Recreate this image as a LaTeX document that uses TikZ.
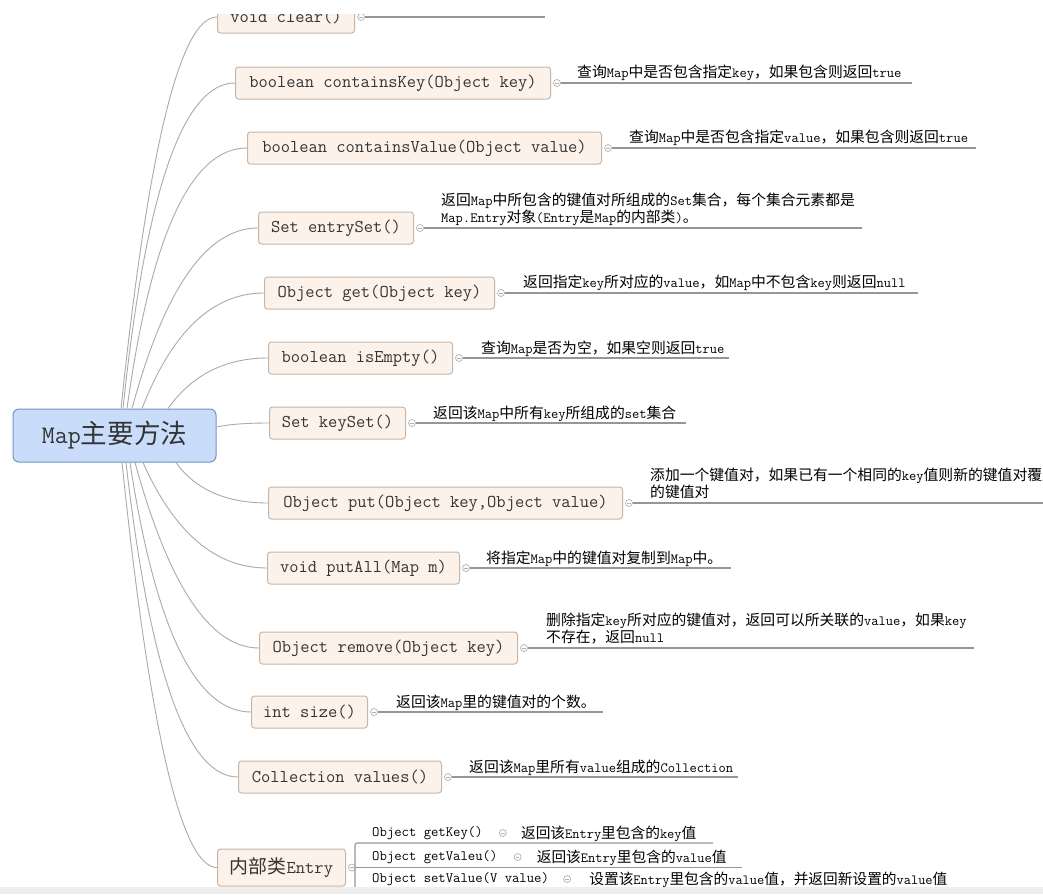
\documentclass[tikz,border=0pt]{standalone}
\usepackage{fontspec}
\usetikzlibrary{calc}
\newcommand\latf{\ttfamily}
\newfontfamily\cjkf[Scale=1.05]{Noto Sans CJK SC}
\XeTeXinterchartokenstate=1
\chardef\CJKcls=7
\newcount\cjkcnt
\cjkcnt="4E00 \loop\XeTeXcharclass\cjkcnt=\CJKcls \ifnum\cjkcnt<"9FFF \advance\cjkcnt by 1 \repeat
\cjkcnt="3000 \loop\XeTeXcharclass\cjkcnt=\CJKcls \ifnum\cjkcnt<"303F \advance\cjkcnt by 1 \repeat
\cjkcnt="FF00 \loop\XeTeXcharclass\cjkcnt=\CJKcls \ifnum\cjkcnt<"FFEF \advance\cjkcnt by 1 \repeat
\XeTeXinterchartoks 0 \CJKcls = {\cjkf}
\XeTeXinterchartoks 4095 \CJKcls = {\cjkf}
\XeTeXinterchartoks \CJKcls 0 = {\latf}
\XeTeXinterchartoks \CJKcls 4095 = {\latf}
\XeTeXinterchartoks 4095 0 = {\latf}
\definecolor{boxfill}{RGB}{253,242,234}
\definecolor{boxdraw}{RGB}{196,182,170}
\definecolor{rootfill}{RGB}{201,221,251}
\definecolor{rootdraw}{RGB}{118,146,196}
\definecolor{linec}{RGB}{170,170,170}
\definecolor{dlinec}{RGB}{150,150,150}
\definecolor{txt}{RGB}{52,52,52}
\definecolor{bandc}{RGB}{238,238,238}
\tikzset{
  mbox/.style={draw=boxdraw, fill=boxfill, rounded corners=3pt, line width=1pt,
    inner xsep=10pt, inner ysep=0pt, minimum height=32pt, anchor=west, text=txt,
    font=\ttfamily\fontsize{18}{20}\selectfont},
  rootbox/.style={draw=rootdraw, fill=rootfill, rounded corners=6pt, line width=1pt,
    minimum width=203pt, minimum height=53pt, inner sep=0pt, text=txt,
    font=\ttfamily\fontsize{25.3}{28}\selectfont},
  branch/.style={draw=linec, line width=0.9pt},
  dline/.style={draw=dlinec, line width=1.1pt},
  desc/.style={anchor=south west, inner sep=0pt, text depth=0pt, align=left,
    font=\ttfamily\fontsize{14.1}{14}\selectfont, text=black},
  sub/.style={anchor=west, inner sep=0pt, font=\ttfamily\fontsize{14.3}{16}\selectfont, text=black},
  subdesc/.style={anchor=base west, inner sep=0pt, font=\ttfamily\fontsize{14}{16}\selectfont, text=black},
  knob/.style={circle, draw=gray!60, fill=white, line width=0.7pt, minimum size=7pt,
    inner sep=0pt, path picture={\draw[gray!60, line width=0.6pt]
      ([xshift=-1.8pt]path picture bounding box.center) --
      ([xshift=1.8pt]path picture bounding box.center);}},
}
\newcommand\brup[4]{\draw[branch] (root.north -| #1,0) .. controls ($(root.north -| #1,0)!0.6667!(#2,#3)$) and ($(#4.west)!0.6667!(#2,#3)$) .. (#4.west);}
\newcommand\brdn[4]{\draw[branch] (root.south -| #1,0) .. controls ($(root.south -| #1,0)!0.6667!(#2,#3)$) and ($(#4.west)!0.6667!(#2,#3)$) .. (#4.west);}
\begin{document}
\begin{tikzpicture}[x=1pt,y=-1pt]
\useasboundingbox (0,0) rectangle (1043,894);
\clip (0,0) rectangle (1043,894);
\fill[white] (0,0) rectangle (1043,894);
% root
\node[rootbox] (root) at (114.5,435.5) {Map主要方法};
% method boxes
\node[mbox, minimum width=137pt] (clear) at (217,17) {void clear()};
\node[mbox, minimum width=315pt] (ckey) at (235,83) {boolean containsKey(Object key)};
\node[mbox, minimum width=354pt] (cval) at (247,148) {boolean containsValue(Object value)};
\node[mbox, minimum width=155pt] (eset) at (258,228) {Set entrySet()};
\node[mbox, minimum width=230pt] (get) at (264,293) {Object get(Object key)};
\node[mbox, minimum width=184pt] (isem) at (268,358) {boolean isEmpty()};
\node[mbox, minimum width=136pt] (kset) at (269,423) {Set keySet()};
\node[mbox, minimum width=354pt] (put) at (268,503) {Object put(Object key,Object value)};
\node[mbox, minimum width=192pt] (pall) at (267,568) {void putAll(Map m)};
\node[mbox, minimum width=258pt] (rem) at (259,648) {Object remove(Object key)};
\node[mbox, minimum width=116pt] (size) at (251,712) {int size()};
\node[mbox, minimum width=203pt] (vals) at (238,777) {Collection values()};
\node[mbox, minimum width=128pt, minimum height=37pt] (entry) at (217,867.5) {内部类Entry};
% branches
\brup{121}{162}{17}{clear}
\brup{123}{157}{83}{ckey}
\brup{127}{163}{148}{cval}
\brup{132}{181}{228}{eset}
\brup{142}{187}{293}{get}
\brup{168}{204}{358}{isem}
\draw[branch] (root.east |- 0,427) .. controls ($(root.east |- 0,427)!0.6667!(235,423)$) and ($(kset.west)!0.6667!(235,423)$) .. (kset.west);
\brdn{176}{205}{503}{put}
\brdn{143}{190}{568}{pall}
\brdn{135}{186}{648}{rem}
\brdn{130}{168}{712}{size}
\brdn{126}{162}{777}{vals}
\brdn{122}{164}{867.5}{entry}
% knobs
\foreach \n/\k in {clear/k1,ckey/k2,cval/k3,eset/k4,get/k5,isem/k6,kset/k7,put/k8,pall/k9,rem/k10,size/k11,vals/k12,entry/k13}
  \node[knob] (\k) at ($(\n.east)+(6,0)$) {};
% description lines
\draw[dline] (k1.east) -- (k1.east -| 545,0);
\draw[dline] (k2.east) -- (k2.east -| 912,0);
\draw[dline] (k3.east) -- (k3.east -| 976,0);
\draw[dline] (k4.east) -- (k4.east -| 862,0);
\draw[dline] (k5.east) -- (k5.east -| 918,0);
\draw[dline] (k6.east) -- (k6.east -| 729,0);
\draw[dline] (k7.east) -- (k7.east -| 686,0);
\draw[dline] (k8.east) -- (k8.east -| 1050,0);
\draw[dline] (k9.east) -- (k9.east -| 731,0);
\draw[dline] (k10.east) -- (k10.east -| 974,0);
\draw[dline] (k11.east) -- (k11.east -| 603,0);
\draw[dline] (k12.east) -- (k12.east -| 738,0);
% descriptions
\node[desc] (d2) at ($(k2.center)+(20,-5)$) {查询Map中是否包含指定key，如果包含则返回true};
\node[desc] (d3) at ($(k3.center)+(21,-5)$) {查询Map中是否包含指定value，如果包含则返回true};
\node[desc] (d4) at ($(k4.center)+(21,-5.5)$) {返回Map中所包含的键值对所组成的Set集合，每个集合元素都是\\Map.Entry对象(Entry是Map的内部类)。};
\node[desc] (d5) at ($(k5.center)+(22,-5)$) {返回指定key所对应的value，如Map中不包含key则返回null};
\node[desc] (d6) at ($(k6.center)+(22,-4.5)$) {查询Map是否为空，如果空则返回true};
\node[desc] (d7) at ($(k7.center)+(21,-4.5)$) {返回该Map中所有key所组成的set集合};
\node[desc] (d8) at ($(k8.center)+(21,-5.5)$) {添加一个键值对，如果已有一个相同的key值则新的键值对覆盖旧\\的键值对};
\node[desc] (d9) at ($(k9.center)+(20,-4.5)$) {将指定Map中的键值对复制到Map中。};
\node[desc] (d10) at ($(k10.center)+(22,-5.5)$) {删除指定key所对应的键值对，返回可以所关联的value，如果key\\不存在，返回null};
\node[desc] (d11) at ($(k11.center)+(22,-4.5)$) {返回该Map里的键值对的个数。};
\node[desc] (d12) at ($(k12.center)+(21,-4.5)$) {返回该Map里所有value组成的Collection};
% Entry sub-items
\coordinate (brtop) at (355,843);
\coordinate (brbot) at (355,892);
\coordinate (u1) at (713,843);
\coordinate (u2) at (742,867.5);
\coordinate (u3) at (965,888);
\draw[dline, rounded corners=2pt] (u1) -- (brtop) -- (brbot);
\draw[dline] (k13.east) -- (u2);
\draw[dline] (brbot |- u3) -- (u3);
\node[sub] (s1) at (372,833) {Object getKey()};
\node[sub] (s2) at (372,857) {Object getValeu()};
\node[sub] (s3) at (372,879) {Object setValue(V value)};
\node[knob] (q1) at ($(s1.east)+(20,0)$) {};
\node[knob] (q2) at ($(s2.east)+(20,0)$) {};
\node[knob] (q3) at ($(s3.east)+(18,0)$) {};
\node[subdesc] (t1) at ($(q1.center)+(18,5.5)$) {返回该Entry里包含的key值};
\node[subdesc] (t2) at ($(q2.center)+(19,5.5)$) {返回该Entry里包含的value值};
\node[subdesc] (t3) at ($(q3.center)+(22,5.5)$) {设置该Entry里包含的value值，并返回新设置的value值};
% screenshot edges
\fill[white] (0,0) rectangle (1043,13.5);
\fill[bandc] (0,886.5) rectangle (1043,894);
\end{tikzpicture}
\end{document}
